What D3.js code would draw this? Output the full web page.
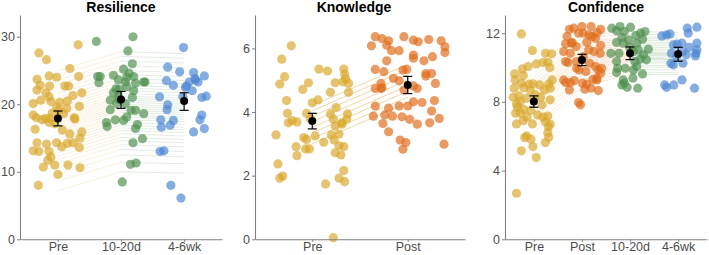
<!DOCTYPE html>
<html>
<head>
<meta charset="utf-8">
<script src="https://cdn.jsdelivr.net/npm/d3@7"></script>
<style>
  body { margin: 0; background: #fff; }
  text { font-family: "Liberation Sans", Arial, sans-serif; }
</style>
</head>
<body>
<div id="chart"></div>
<script>
// categories
const resCats = ["Pre", "10-20d", "4-6wk"];
const knowCats = ["Pre", "Post"];
const confCats = ["Pre", "Post", "10-20d", "4-6wk"];

// points: [jittered category position, score]
const resPre = [[0.70,27.6],[0.82,26.6],[1.32,28.8],[1.19,25.3],[0.86,24.2],[0.98,24.0],[1.33,24.1],[0.67,23.7],
  [0.72,22.8],[0.87,22.7],[0.67,22.1],[1.11,22.7],[1.17,22.7],[1.38,21.7],[0.81,21.7],[0.86,21.1],[1.24,21.3],
  [0.89,20.4],[0.61,20.1],[1.03,20.3],[1.15,20.5],[0.98,19.6],[1.34,19.7],[1.14,19.4],[0.61,18.4],[0.66,18.0],
  [0.75,17.7],[0.87,17.9],[0.86,17.3],[1.27,17.8],[0.64,16.3],[0.95,17.1],[1.07,16.2],[1.38,15.9],[1.19,15.6],
  [1.35,15.0],[0.67,14.3],[0.82,14.1],[0.98,14.3],[1.15,14.2],[1.24,14.3],[1.06,13.7],[1.34,13.6],[0.61,13.1],
  [0.70,13.0],[0.86,13.0],[0.89,12.2],[0.84,11.7],[0.95,11.0],[1.16,11.0],[0.77,10.7],[1.35,10.6],[1.00,9.6],
  [0.69,8.0],[0.91,18.7],[1.02,19.1],[1.09,18.6],[0.73,20.6],[1.26,18.0],[0.80,17.9]];
const res1020 = [[1.61,29.3],[2.19,30.0],[2.11,27.9],[2.18,26.0],[2.04,25.2],[1.63,24.1],[1.88,24.3],[1.65,23.2],
  [1.96,23.6],[2.07,23.3],[2.20,24.1],[2.23,23.1],[2.36,23.3],[1.92,22.3],[2.09,22.6],[2.20,22.0],[1.88,21.7],
  [2.18,21.0],[1.83,20.6],[1.93,20.1],[2.07,20.1],[1.83,19.2],[2.23,19.1],[2.09,18.1],[1.91,17.7],[2.04,17.6],
  [2.36,18.6],[1.77,17.3],[1.78,16.7],[2.23,16.4],[2.26,17.0],[2.19,14.3],[2.34,14.9],[2.15,11.1],[2.24,11.3],
  [2.02,8.5],[1.67,24.1],[2.09,24.0],[2.13,24.6],[1.97,22.2],[1.96,21.1],[2.16,19.1],[1.97,20.7],[2.38,23.3]];
const res46 = [[2.99,28.4],[2.74,25.5],[2.93,24.8],[3.15,24.7],[2.72,23.5],[2.83,22.8],[3.17,23.8],[3.22,23.3],
  [3.32,24.2],[3.08,23.3],[3.04,22.7],[3.13,22.0],[2.61,21.1],[2.98,21.1],[3.35,21.2],[3.28,21.0],[2.74,19.9],
  [2.73,19.2],[2.63,17.7],[2.83,17.6],[2.78,16.9],[2.64,16.6],[3.28,18.4],[3.25,17.7],[3.15,15.9],[3.32,16.4],
  [2.62,13.0],[2.68,13.1],[2.79,8.0],[2.95,6.1],[3.02,22.5],[3.18,23.6]];

const knowPre = [[0.78,6.08],[0.68,5.66],[0.71,5.11],[0.66,4.88],[0.73,4.36],[0.74,3.96],[0.75,3.66],[0.79,3.73],
  [0.84,3.69],[0.62,3.28],[0.83,2.91],[0.84,2.63],[0.64,2.37],[0.69,1.99],[0.66,1.92],[0.90,4.71],[0.96,4.92],
  [1.00,4.29],[1.06,4.38],[1.07,5.35],[1.16,5.29],[0.94,3.96],[0.98,3.79],[0.91,3.20],[0.94,3.14],[0.93,2.84],
  [0.97,2.84],[1.03,3.25],[1.12,3.05],[1.19,4.62],[1.24,4.92],[1.19,3.94],[1.22,3.78],[1.25,4.14],[1.24,3.56],
  [1.20,3.28],[1.23,3.12],[1.28,3.31],[1.28,2.94],[1.33,2.91],[1.24,2.72],[1.30,2.65],[1.14,1.74],[1.28,1.92],
  [1.33,2.16],[1.34,1.81],[1.33,5.35],[1.34,5.19],[1.32,4.95],[1.35,5.04],[1.38,4.90],[1.38,4.62],[1.37,3.94],
  [1.36,3.78],[1.31,3.66],[1.31,3.62],[1.22,0.05]];
const knowPost = [[1.66,6.37],[1.73,6.31],[1.80,6.24],[1.62,6.08],[1.78,6.10],[1.83,5.93],[1.91,5.93],[1.96,6.37],
  [2.06,6.26],[2.11,6.21],[2.22,6.28],[2.35,6.24],[2.39,6.05],[2.39,5.87],[2.06,5.79],[2.06,5.69],[2.26,5.74],
  [2.17,5.61],[1.78,5.61],[1.66,5.34],[1.75,5.27],[1.95,5.32],[1.99,5.34],[2.19,5.21],[2.25,5.21],[2.19,5.13],
  [1.85,5.06],[1.91,4.98],[1.72,4.90],[2.29,4.90],[1.66,4.74],[1.72,4.74],[1.96,4.69],[2.10,4.74],[1.91,4.19],
  [1.66,4.19],[1.80,4.12],[2.06,4.32],[2.00,4.19],[2.15,4.30],[2.28,4.36],[1.76,3.91],[1.84,3.87],[1.64,3.87],
  [1.94,3.85],[2.02,3.77],[1.74,3.64],[2.10,3.62],[2.25,4.03],[2.23,3.66],[2.33,3.80],[1.80,3.38],[1.92,3.12],
  [1.98,3.04],[2.38,2.99],[1.95,2.83],[2.06,4.82],[1.73,4.76]];

const confPre = [[0.74,11.96],[0.97,10.99],[1.24,10.83],[1.37,10.80],[0.76,9.92],[0.88,10.06],[1.05,10.21],
  [1.19,10.29],[1.29,10.31],[1.33,10.00],[0.60,9.63],[0.78,9.53],[0.61,9.28],[0.74,9.09],[0.90,9.03],[0.98,9.05],
  [1.12,8.99],[1.38,9.28],[1.31,9.03],[0.59,8.80],[0.79,8.83],[0.93,8.66],[1.22,8.70],[1.34,8.80],[0.69,8.35],
  [0.85,8.21],[0.72,8.02],[0.64,7.88],[1.14,8.27],[1.34,8.12],[0.66,7.69],[0.79,7.57],[0.72,7.34],[0.62,7.34],
  [0.94,7.50],[1.08,7.24],[1.19,7.11],[1.29,7.18],[0.86,7.11],[0.64,6.72],[0.97,6.72],[0.78,6.91],[1.24,6.85],
  [1.34,6.70],[1.30,6.56],[1.29,6.21],[0.85,6.02],[0.81,5.92],[1.31,5.94],[1.24,5.63],[0.94,5.83],[0.98,5.40],
  [0.74,5.15],[1.05,4.76],[0.64,2.68],[0.57,8.27],[1.03,8.41],[1.17,7.83]];
const confPost = [[1.74,12.23],[1.83,12.29],[2.00,12.39],[1.93,12.00],[2.03,12.00],[2.19,12.39],[2.32,12.04],
  [2.39,12.23],[2.21,11.81],[2.28,11.71],[1.69,11.81],[1.66,11.38],[1.78,11.42],[1.88,11.22],[2.10,11.48],
  [2.39,11.28],[2.14,11.03],[1.62,10.93],[1.76,10.83],[2.25,10.93],[2.38,10.83],[1.66,10.35],[1.71,10.29],
  [1.89,10.35],[2.16,10.25],[2.28,10.06],[2.34,9.86],[2.41,9.96],[1.89,9.96],[1.94,9.86],[2.08,9.77],[2.31,9.38],
  [2.39,9.67],[1.62,9.28],[1.66,9.13],[1.76,9.13],[1.84,9.24],[2.01,9.09],[2.10,9.03],[2.23,9.32],[2.31,9.28],
  [1.74,8.70],[2.06,8.74],[2.19,8.80],[2.34,8.66],[1.93,7.96],[1.97,7.83],[2.15,11.90],[2.03,10.64],[1.80,11.45]];
const conf1020 = [[2.62,12.29],[2.79,12.39],[3.01,12.35],[2.72,12.14],[2.88,12.10],[3.22,12.00],[3.31,12.10],
  [3.12,11.86],[2.83,11.75],[3.26,11.65],[2.72,11.46],[2.86,11.42],[2.99,11.18],[3.38,11.07],[2.60,10.83],
  [2.77,10.83],[3.07,10.93],[3.17,11.03],[3.28,10.74],[2.72,10.35],[3.10,10.35],[3.21,10.49],[3.34,10.45],
  [2.74,9.96],[2.90,9.96],[3.07,9.86],[3.14,10.06],[2.72,9.71],[3.26,9.63],[2.86,9.28],[2.88,9.09],[2.83,8.99],
  [2.94,8.85],[3.16,8.80],[3.06,9.38],[3.14,11.42],[2.97,11.61]];
const conf46 = [[3.66,11.84],[3.76,11.90],[3.83,11.96],[4.19,12.29],[4.39,12.35],[4.21,12.00],[3.90,11.32],
  [3.98,11.36],[4.08,11.42],[4.23,11.18],[4.39,11.42],[4.39,11.03],[3.86,10.83],[4.10,10.93],[4.37,10.83],
  [4.36,10.68],[4.17,10.74],[3.85,10.25],[3.90,10.16],[4.10,10.25],[3.72,8.99],[3.76,8.85],[3.91,8.99],
  [4.08,9.28],[4.34,8.80],[3.97,10.64]];

// per-person trajectories (one value per time point)
const resLinePre  = [7.2, 8.6, 9.7, 10.5, 11.2, 11.8, 12.3, 12.8, 13.3, 13.7, 14.1, 14.5, 14.9, 15.3, 15.6, 16.0,
  16.3, 16.6, 16.9, 17.2, 17.5, 17.8, 18.1, 18.4, 18.8, 19.2, 19.6, 20.0, 20.5, 21.0, 21.6, 22.2, 22.9, 23.6, 24.3, 25.0];
const resLine1020 = [10.0, 11.4, 12.5, 13.3, 14.0, 14.6, 15.1, 15.6, 16.1, 16.5, 16.9, 17.3, 17.7, 18.1, 18.4, 18.8,
  19.1, 19.4, 19.7, 20.0, 20.3, 20.6, 20.9, 21.2, 21.6, 22.0, 22.4, 22.8, 23.3, 23.8, 24.4, 25.0, 25.7, 26.4, 27.1, 27.8];
const resLine46   = [9.8, 11.2, 12.2, 13.0, 13.7, 14.3, 14.8, 15.3, 15.8, 16.2, 16.6, 17.0, 17.4, 17.8, 18.1, 18.5,
  18.8, 19.1, 19.4, 19.7, 20.0, 20.3, 20.6, 20.9, 21.3, 21.7, 22.1, 22.5, 23.0, 23.5, 24.1, 24.7, 25.4, 26.1, 26.8, 27.5];

const knowLinePre  = [3.00, 3.17, 3.35, 3.52, 3.70, 3.87, 4.04, 4.20];
const knowLinePost = [4.30, 4.47, 4.65, 4.82, 5.00, 5.17, 5.34, 5.50];

const confLinePre  = [6.2, 6.5, 6.8, 7.0, 7.2, 7.4, 7.6, 7.8, 7.9, 8.0, 8.1, 8.2, 8.3, 8.4, 8.5, 8.6, 8.7, 8.8, 8.9,
  9.0, 9.1, 9.3, 9.5, 9.7, 9.9, 10.2];
const confLinePost = [8.9, 9.1, 9.3, 9.5, 9.6, 9.8, 9.9, 10.0, 10.1, 10.2, 10.3, 10.4, 10.5, 10.55, 10.6, 10.7,
  10.8, 10.9, 11.0, 11.1, 11.2, 11.3, 11.4, 11.5, 11.7, 11.9];
const confLine1020 = [9.6, 9.75, 9.9, 10.05, 10.15, 10.3, 10.4, 10.5, 10.55, 10.6, 10.7, 10.75, 10.8, 10.85, 10.9,
  11.0, 11.1, 11.2, 11.3, 11.4, 11.5, 11.6, 11.7, 11.8, 11.95, 12.1];
const confLine46   = [9.6, 9.7, 9.85, 10.0, 10.1, 10.25, 10.35, 10.45, 10.5, 10.55, 10.65, 10.7, 10.75, 10.8, 10.85,
  10.95, 11.05, 11.15, 11.25, 11.35, 11.45, 11.55, 11.65, 11.75, 11.9, 12.05];

// group means and 95% CI
const resMean = [17.9, 20.7, 20.5],  resLo = [16.8, 19.4, 19.1],  resHi = [19.0, 21.9, 21.7];
const knowMean = [3.72, 4.85],       knowLo = [3.47, 4.58],       knowHi = [3.96, 5.12];
const confMean = [8.02, 10.44, 10.83, 10.79], confLo = [7.69, 10.11, 10.46, 10.37], confHi = [8.35, 10.77, 11.20, 11.18];

// y ticks
const resTicks = [0, 10, 20, 30];
const knowTicks = [0, 2, 4, 6];
const confTicks = [0, 4, 8, 12];

const colPre = "#D9A62B", colPost = "#E06B1A", col1020 = "#4E8F4E", col46 = "#4D86D3";

const W = 709, H = 255, yBottom = 239.3, yTop = 15;

const panels = [
  { title: "Resilience", titleX: 121, cats: resCats, x0: 20, x1: 222, yMax: 33.22, ticks: resTicks,
    groups: [resPre, res1020, res46], colors: [colPre, col1020, col46],
    lines: [resLinePre, resLine1020, resLine46], lineOpacity: 0.2,
    mean: resMean, lo: resLo, hi: resHi },
  { title: "Knowledge", titleX: 354, cats: knowCats, x0: 255, x1: 465, yMax: 7.05, ticks: knowTicks,
    groups: [knowPre, knowPost], colors: [colPre, colPost],
    lines: [knowLinePre, knowLinePost], lineOpacity: 0.55,
    mean: knowMean, lo: knowLo, hi: knowHi },
  { title: "Confidence", titleX: 606, cats: confCats, x0: 505, x1: 707, yMax: 13.06, ticks: confTicks,
    groups: [confPre, confPost, conf1020, conf46], colors: [colPre, colPost, col1020, col46],
    lines: [confLinePre, confLinePost, confLine1020, confLine46], lineOpacity: 0.22,
    mean: confMean, lo: confLo, hi: confHi }
];

const svg = d3.select("#chart").append("svg")
  .attr("width", W).attr("height", H);

panels.forEach(p => {
  const n = p.cats.length;
  const x = d3.scaleLinear().domain([0.4, n + 0.6]).range([p.x0, p.x1]);
  const y = d3.scaleLinear().domain([0, p.yMax]).range([yBottom, yTop]);
  const g = svg.append("g");

  // title
  g.append("text")
    .attr("x", p.titleX).attr("y", 12)
    .attr("text-anchor", "middle")
    .style("font-size", "14px").style("font-weight", "bold")
    .text(p.title);

  // subject trajectories
  for (let k = 0; k < n - 1; k++) {
    const a = p.lines[k], b = p.lines[k + 1];
    g.append("g").selectAll("line")
      .data(a.map((v, i) => [v, b[i]]))
      .join("line")
      .attr("x1", x(k + 1)).attr("x2", x(k + 2))
      .attr("y1", d => y(d[0])).attr("y2", d => y(d[1]))
      .attr("stroke", p.colors[k])
      .attr("stroke-opacity", p.lineOpacity)
      .attr("stroke-width", 0.8);
  }

  // jittered points
  p.groups.forEach((pts, k) => {
    g.append("g").selectAll("circle")
      .data(pts)
      .join("circle")
      .attr("cx", d => x(d[0]))
      .attr("cy", d => y(d[1]))
      .attr("r", 4.6)
      .attr("fill", p.colors[k])
      .attr("fill-opacity", 0.68);
  });

  // error bars and means
  const eb = g.append("g");
  p.mean.forEach((m, k) => {
    const cx = x(k + 1);
    eb.append("line").attr("x1", cx).attr("x2", cx)
      .attr("y1", y(p.lo[k])).attr("y2", y(p.hi[k]))
      .attr("stroke", "#000").attr("stroke-width", 1.2);
    [p.lo[k], p.hi[k]].forEach(v => {
      eb.append("line").attr("x1", cx - 4.5).attr("x2", cx + 4.5)
        .attr("y1", y(v)).attr("y2", y(v))
        .attr("stroke", "#000").attr("stroke-width", 1.2);
    });
    eb.append("circle").attr("cx", cx).attr("cy", y(m)).attr("r", 4).attr("fill", "#000");
  });

  // axes
  const yAxis = g.append("g")
    .attr("transform", `translate(${p.x0},0)`)
    .call(d3.axisLeft(y).tickValues(p.ticks).tickFormat(d3.format("d"))
      .tickSize(3).tickSizeOuter(0).tickPadding(2));
  const xAxis = g.append("g")
    .attr("transform", `translate(0,${yBottom})`)
    .call(d3.axisBottom(x).tickValues(d3.range(1, n + 1)).tickFormat(i => p.cats[i - 1])
      .tickSize(2.5).tickSizeOuter(0).tickPadding(0.5));
  [yAxis, xAxis].forEach(a => {
    a.select(".domain").attr("stroke", "#7f7f7f").attr("stroke-width", 1.1);
    a.selectAll(".tick line").attr("stroke", "#7f7f7f");
    a.selectAll(".tick text").attr("fill", "#4d4d4d")
      .style("font-size", "12.5px").style("font-family", "'Liberation Sans', Arial, sans-serif");
  });
});
</script>
</body>
</html>
